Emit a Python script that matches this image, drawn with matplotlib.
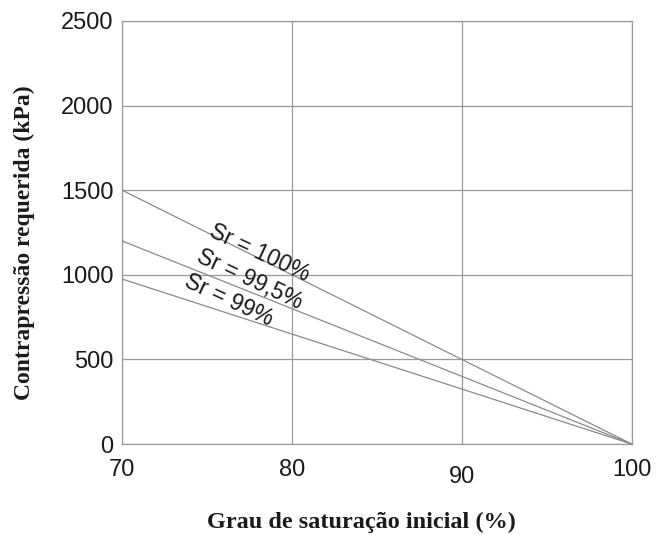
import matplotlib
matplotlib.use("Agg")
import matplotlib.pyplot as plt
import matplotlib.transforms as mtransforms

# grau de saturacao inicial (%) e contrapressao requerida (kPa)
saturacao = [70, 100]
sr_100 = [1500, 0]
sr_995 = [1200, 0]
sr_99 = [975, 0]

rotulos = ["Sr = 100%", "Sr = 99,5%", "Sr = 99%"]
pos_rotulos = [(78.1, 1130), (77.5, 970), (76.3, 850)]

x_ticks = [70, 80, 90, 100]
y_ticks = [0, 500, 1000, 1500, 2000, 2500]

cinza = "#9a9a9a"

fig = plt.figure(figsize=(6.56, 5.35), dpi=100)
ax = fig.add_axes([0.186, 0.170, 0.777, 0.791])

for serie in (sr_100, sr_995, sr_99):
    ax.plot(saturacao, serie, color="#8a8a8a", lw=0.9, zorder=3)

for txt, (x, y) in zip(rotulos, pos_rotulos):
    ax.text(x, y, txt, rotation=-25, ha="center", va="center",
            fontsize=16.5, family="Liberation Sans", color="#1a1a1a", zorder=4)

ax.set_xlim(70, 100)
ax.set_ylim(0, 2500)
ax.set_xticks(x_ticks)
ax.set_yticks(y_ticks)
ax.grid(True, color=cinza, lw=0.9)
ax.set_axisbelow(True)
for s in ax.spines.values():
    s.set_color(cinza)
    s.set_linewidth(0.9)

ax.tick_params(length=0, labelsize=17, labelcolor="#1a1a1a")
ax.tick_params(axis="x", pad=11)
ax.tick_params(axis="y", pad=6)
for lab in ax.get_xticklabels() + ax.get_yticklabels():
    lab.set_family("Liberation Sans")

# o "90" aparece um pouco mais baixo na figura original
lab90 = ax.get_xticklabels()[2]
lab90.set_transform(lab90.get_transform() +
                    mtransforms.ScaledTranslation(0, -5 / 72, fig.dpi_scale_trans))

ax.set_xlabel("Grau de saturação inicial (%)", family="Liberation Serif",
              fontweight="bold", fontsize=17.5, color="#1a1a1a")
ax.set_ylabel("Contrapressão requerida (kPa)", family="Liberation Serif",
              fontweight="bold", fontsize=17, color="#1a1a1a")
ax.xaxis.set_label_coords(0.47, -0.160)
ax.yaxis.set_label_coords(-0.170, 0.476)

fig.savefig("out.png", dpi=100)
